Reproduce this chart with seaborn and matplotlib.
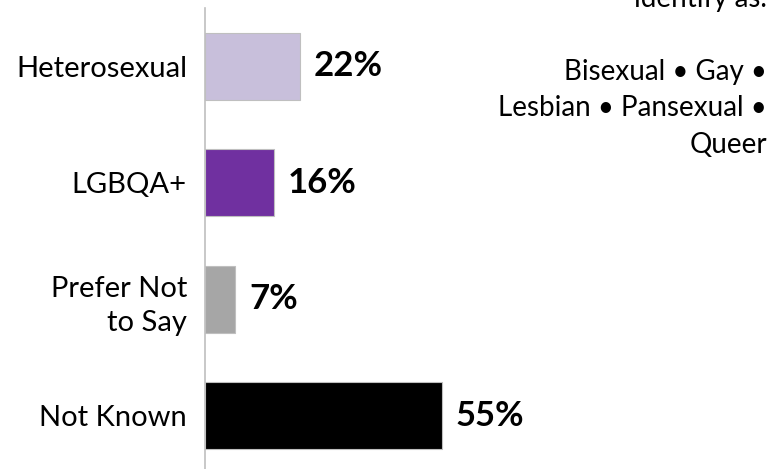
import matplotlib
matplotlib.use("Agg")
import matplotlib.pyplot as plt
import seaborn as sns
import pandas as pd

categories = ["Heterosexual", "LGBQA+", "Prefer Not\nto Say", "Not Known"]
values = [22, 16, 7, 55]
value_labels = ["22%", "16%", "7%", "55%"]
colors = ["#C8BFDB", "#7030A0", "#A6A6A6", "#000000"]
note_lines = ["identify as.", "", "Bisexual \u2022 Gay \u2022",
              "Lesbian \u2022 Pansexual \u2022", "Queer"]

sns.set_theme(style="white")
plt.rcParams["font.family"] = ["Lato", "DejaVu Sans"]

df = pd.DataFrame({"category": categories, "value": values})

W, H = 773, 469
fig = plt.figure(figsize=(W / 100, H / 100), dpi=100)
ax = fig.add_axes([205 / W, 0, 568 / W, 461 / H])

sns.barplot(data=df, x="value", y="category", hue="category",
            palette=colors, saturation=1, orient="h", width=0.575,
            legend=False, edgecolor="#BFBFBF", linewidth=0.8, ax=ax)

for cont, lab in zip(ax.containers, value_labels):
    ax.bar_label(cont, labels=[lab], padding=10, fontsize=25,
                 fontweight="bold", color="black")

ax.set_xlim(0, 132)
ax.set_ylim(3.455, -0.5)
ax.set_xlabel("")
ax.set_ylabel("")
ax.set_xticks([])
for s in ["top", "right", "bottom"]:
    ax.spines[s].set_visible(False)
ax.spines["left"].set_color("#BFBFBF")
ax.spines["left"].set_linewidth(1.2)
ax.tick_params(axis="y", length=0, pad=13, labelsize=21, labelcolor="black")
for t in ax.get_yticklabels():
    t.set_horizontalalignment("right")
    t.set_multialignment("right")
    t.set_linespacing(1.4)

for i, line in enumerate(note_lines):
    if line:
        fig.text(767 / W, 1 - (7 + i * 36.5) / H, line, ha="right",
                 va="baseline", fontsize=20, color="black")

fig.savefig("out.png", dpi=100)
